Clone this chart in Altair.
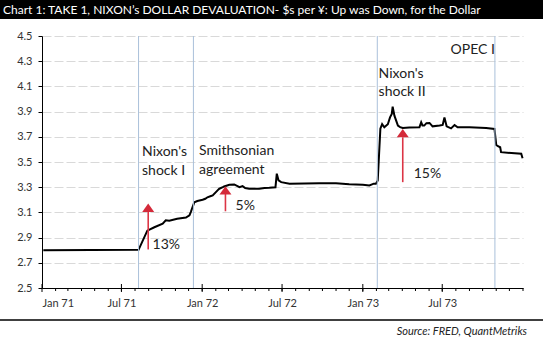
import altair as alt
import pandas as pd

# ---- data ----
line_dates = [
    "1971-01-04", "1971-08-09", "1971-08-29", "1971-09-14", "1971-10-03", "1971-10-10",
    "1971-10-18", "1971-11-05", "1971-11-25", "1971-12-03", "1971-12-06", "1971-12-14",
    "1971-12-21", "1972-01-02", "1972-01-08", "1972-01-13", "1972-01-21", "1972-01-25",
    "1972-02-05", "1972-02-09", "1972-02-17", "1972-02-20", "1972-03-03", "1972-03-14",
    "1972-03-26", "1972-04-02", "1972-04-08", "1972-04-17", "1972-05-03", "1972-05-10",
    "1972-05-22", "1972-06-02", "1972-06-16", "1972-06-19", "1972-06-23", "1972-06-29",
    "1972-07-18", "1972-09-24", "1972-11-01", "1972-12-01", "1973-01-01", "1973-01-16",
    "1973-01-26", "1973-01-31", "1973-02-04", "1973-02-10", "1973-02-14", "1973-02-19",
    "1973-02-27", "1973-03-04", "1973-03-08", "1973-03-10", "1973-03-14", "1973-03-22",
    "1973-03-27", "1973-04-02", "1973-04-17", "1973-05-10", "1973-05-14", "1973-05-17",
    "1973-05-21", "1973-05-26", "1973-06-02", "1973-06-09", "1973-06-25", "1973-07-02",
    "1973-07-06", "1973-07-11", "1973-07-21", "1973-07-29", "1973-08-05", "1973-09-01",
    "1973-10-09", "1973-10-28", "1973-11-01", "1973-11-05", "1973-11-10", "1973-11-12",
    "1973-12-28", "1973-12-31",
]
line_values = [
    2.800, 2.803, 2.955, 2.982, 3.011, 3.038,
    3.034, 3.050, 3.059, 3.077, 3.103, 3.180,
    3.190, 3.200, 3.208, 3.220, 3.230, 3.235,
    3.275, 3.288, 3.300, 3.306, 3.320, 3.322,
    3.300, 3.309, 3.294, 3.288, 3.288, 3.288,
    3.294, 3.296, 3.300, 3.407, 3.354, 3.340,
    3.328, 3.332, 3.332, 3.324, 3.320, 3.314,
    3.328, 3.328, 3.354, 3.765, 3.800, 3.775,
    3.800, 3.854, 3.881, 3.939, 3.868, 3.789,
    3.777, 3.770, 3.773, 3.775, 3.815, 3.790,
    3.789, 3.808, 3.810, 3.783, 3.789, 3.794,
    3.854, 3.783, 3.767, 3.794, 3.775, 3.775,
    3.770, 3.762, 3.636, 3.625, 3.617, 3.578,
    3.565, 3.530,
]

event_dates = ["1971-08-09", "1971-12-12", "1973-02-03", "1973-10-29"]

note_dates = ["1971-08-17", "1971-08-17", "1971-12-25", "1971-12-25",
              "1973-02-06", "1973-02-06", "1973-07-20"]
note_values = [3.577, 3.427, 3.591, 3.438, 4.197, 4.052, 4.389]
note_texts = ["Nixon's", "shock I", "Smithsonian", "agreement",
              "Nixon's", "shock II", "OPEC I"]

pct_dates = ["1971-09-10", "1972-03-17", "1973-04-27"]
pct_values = [2.840, 3.148, 3.407]
pct_texts = ["13%", "5%", "15%"]

arrow_dates = ["1971-08-31", "1972-02-23", "1973-04-02"]
arrow_tips = [3.170, 3.301, 3.762]
arrow_bases = [3.103, 3.249, 3.696]
arrow_bottoms = [2.806, 3.109, 3.340]

y_ticks = [2.5, 2.7, 2.9, 3.1, 3.3, 3.5, 3.7, 3.9, 4.1, 4.3, 4.5]
major_tick_dates = ["1971-01-01", "1971-07-01", "1972-01-01", "1972-07-01",
                    "1973-01-01", "1973-07-01"]

FONT = "Lato"
W, H = 481, 252

line_df = pd.DataFrame({"date": line_dates, "value": line_values})
event_df = pd.DataFrame({"date": event_dates})
note_df = pd.DataFrame({"date": note_dates, "value": note_values, "text": note_texts})
pct_df = pd.DataFrame({"date": pct_dates, "value": pct_values, "text": pct_texts})
arrow_df = pd.DataFrame({
    "date": arrow_dates, "tip": arrow_tips, "base": arrow_bases, "bottom": arrow_bottoms,
})
arrow_df["head"] = (arrow_df["tip"] + arrow_df["base"]) / 2
minor_df = pd.DataFrame({"date": [d.strftime("%Y-%m-%d") for d in pd.date_range("1971-02-01", "1974-01-01", freq="MS")]})
major_df = pd.DataFrame({"date": major_tick_dates})

x_scale = alt.Scale(type="utc",
                    domain=[alt.DateTime(year=1971, month=1, date=1, utc=True),
                            alt.DateTime(year=1974, month=1, date=1, utc=True)],
                    nice=False)
y_scale = alt.Scale(domain=[2.5, 4.5], nice=False, zero=False)

x_axis = alt.Axis(
    values=[alt.DateTime(year=y, month=m, date=1, utc=True)
            for y in (1971, 1972, 1973) for m in (1, 7)],
    labelExpr="utcFormat(datum.value, '%b %y')",
    ticks=False, tickSize=0, grid=False, domainColor="black", domainWidth=1,
    labelPadding=9, labelFont=FONT, labelFontSize=11, labelColor="#333333",
    labelOverlap=False, title=None,
)
y_axis = alt.Axis(
    values=y_ticks, format=".1f", grid=True, gridColor="#d9d9d9", gridDash=[9, 3],
    gridWidth=1, domainColor="black", tickColor="black", tickSize=4,
    labelPadding=6, labelFont=FONT, labelFontSize=11, labelColor="#333333",
    labelOverlap=False, labelFlush=False, title=None,
)

Xa = alt.X("date:T", scale=x_scale, axis=x_axis)


def Ya(field):
    return alt.Y(field, scale=y_scale, axis=y_axis)


base_line = alt.Chart(line_df).mark_line(color="black", strokeWidth=2).encode(
    x=Xa, y=Ya("value:Q"))

events = alt.Chart(event_df).mark_rule(color="#aac0da", strokeWidth=1).encode(
    x=Xa, y=alt.value(0), y2=alt.value(H))

notes = alt.Chart(note_df).mark_text(
    align="left", baseline="middle", font=FONT, fontSize=14, color="#222222"
).encode(x=Xa, y=Ya("value:Q"), text="text:N")

pcts = alt.Chart(pct_df).mark_text(
    align="left", baseline="middle", font=FONT, fontSize=14, color="#222222"
).encode(x=Xa, y=Ya("value:Q"), text="text:N")

shafts = alt.Chart(arrow_df).mark_rule(color="#dc3545", strokeWidth=1.6).encode(
    x=Xa, y=Ya("bottom:Q"), y2="base:Q")

heads = alt.Chart(arrow_df).mark_point(
    shape="M-1,0.7L0,-0.7L1,0.7Z", filled=True, size=144, color="#d42a3a", opacity=1
).encode(x=Xa, y=Ya("head:Q"))

minor_ticks = alt.Chart(minor_df).mark_rule(color="black", strokeWidth=1).encode(
    x=Xa, y=alt.value(H), y2=alt.value(H + 3))
major_ticks = alt.Chart(major_df).mark_rule(color="black", strokeWidth=1).encode(
    x=Xa, y=alt.value(H - 4), y2=alt.value(H + 4))

# decorations: title band, bottom separator and source note
title_band = alt.Chart(pd.DataFrame({"k": [0]})).mark_rect(color="black").encode(
    x=alt.value(-42), x2=alt.value(501), y=alt.value(-36), y2=alt.value(-17))
title_text = alt.Chart(pd.DataFrame({"t": ["Chart 1: TAKE 1, NIXON\u2019s DOLLAR DEVALUATION- $s per \u00a5: Up was Down, for the Dollar"]})).mark_text(
    align="left", baseline="middle", font=FONT, fontSize=12, color="white"
).encode(x=alt.value(-39), y=alt.value(-26.5), text="t:N")
separator = alt.Chart(pd.DataFrame({"k": [0]})).mark_rule(color="black", strokeWidth=1.5).encode(
    x=alt.value(-42), x2=alt.value(501), y=alt.value(284))
source = alt.Chart(pd.DataFrame({"t": ["Source: FRED, QuantMetriks"]})).mark_text(
    align="right", baseline="middle", font=FONT, fontSize=11, fontStyle="italic", color="#222222"
).encode(x=alt.value(485), y=alt.value(295.5), text="t:N")

chart = alt.layer(
    base_line, events, shafts, heads, notes, pcts, minor_ticks, major_ticks,
    title_band, title_text, separator, source,
).properties(
    width=W, height=H,
    autosize=alt.AutoSizeParams(type="none"),
    padding={"left": 42, "top": 36, "right": 20, "bottom": 50},
    background="white",
).configure_view(stroke=None).configure_axis(labelOverlap=False)

chart.save("out.html", embed_options={"renderer": "svg", "actions": False})
